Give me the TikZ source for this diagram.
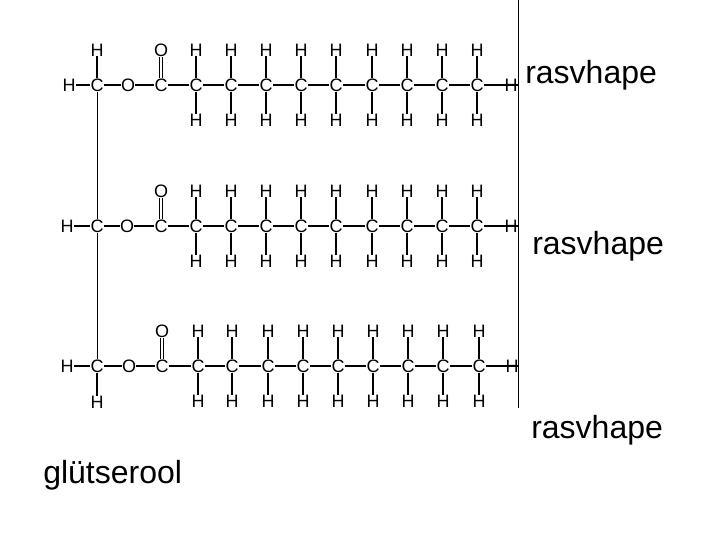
\documentclass[tikz,border=0pt]{standalone}
\usepackage{fontspec}
\setmainfont{Liberation Sans}
\usepackage{xcolor}
\usetikzlibrary{positioning}
\tikzset{%
	atom/.style     = {inner sep=0pt, font=\fontsize{13.5}{15}\selectfont}, % C, H, O
	label/.style    = {inner sep=0pt, anchor=base west, font=\fontsize{24}{28}\selectfont},
	bond/.style     = {line width=1pt},
	spine/.style    = {line width=0.7pt},
	waypoint/.style = {coordinate},
}
\begin{document}
\begin{tikzpicture}[x=0.75pt,y=-0.75pt]
		\useasboundingbox (0,0) rectangle (720,540);
		
		% one row per fatty acid: y, ester O, carboxyl C, left H, chain
		\foreach \r/\ry/\ox/\cx/\hx/\endx/\chain in {%
			1/85/128/161/69/511/{196,231,266,301,336,372,407,442,477},
			2/226/127/161/67/511/{196,231,266,301,336,372,407,442,477},
			3/366/129/162/67/512/{198,232,268,303,338,373,408,443,479}}{
			\node [atom] (gc\r) at (97,\ry) {C};
			\node [atom] (gh\r) at (\hx,\ry) {H};
			\node [atom] (es\r) at (\ox,\ry) {O};
			\node [atom] (c\r0) at (\cx,\ry) {C};
			\node [atom] (ox\r) at (\cx,\ry-35) {O};
			\draw[bond] (gh\r) -- (gc\r);
			\draw[bond] (gc\r) -- (es\r);
			\draw[bond] (es\r) -- (c\r0);
			\draw[bond] ([xshift=-1.2pt]ox\r.south) -- ([xshift=-1.2pt]c\r0.north);
			\draw[bond] ([xshift=1.2pt]ox\r.south) -- ([xshift=1.2pt]c\r0.north);
			
			\foreach \px [count=\n,remember=\n as \p (initially 0)] in \chain {
				\node [atom] (c\r\n) at (\px,\ry) {C};
				\node [atom] (top\r\n) at (\px,\ry-35) {H};
				\node [atom] (bot\r\n) at (\px,\ry+35) {H};
				\draw[bond] (c\r\p) -- (c\r\n);
				\draw[bond] (top\r\n) -- (c\r\n);
				\draw[bond] (bot\r\n) -- (c\r\n);
			}
			\node [atom] (end\r) at (\endx,\ry) {H};
			\draw[bond] (c\r9) -- (end\r.east);
		}
		
		% glycerol backbone and its two extra H
		\node [atom] (ghtop) at (97,50) {H};
		\node [atom] (ghbot) at (97,402) {H};
		\draw[bond] (ghtop) -- (gc1);
		\draw[bond] (gc3) -- (ghbot);
		\draw[spine] (gc1) -- (gc2);
		\draw[spine] (gc2) -- (gc3);
		
		\node [waypoint] (railtop) at (518,0) {};
		\node [waypoint] (railbot) at (518,408) {};
		\draw[spine] (railtop) -- (railbot);
		
		\node [label] (acid1) at (525,83) {rasvhape};
		\node [label] (acid2) at (532,254) {rasvhape};
		\node [label] (acid3) at (531,438) {rasvhape};
		\node [label] (glycerol) at (43,483) {glütserool};
		\end{tikzpicture}
\end{document}
